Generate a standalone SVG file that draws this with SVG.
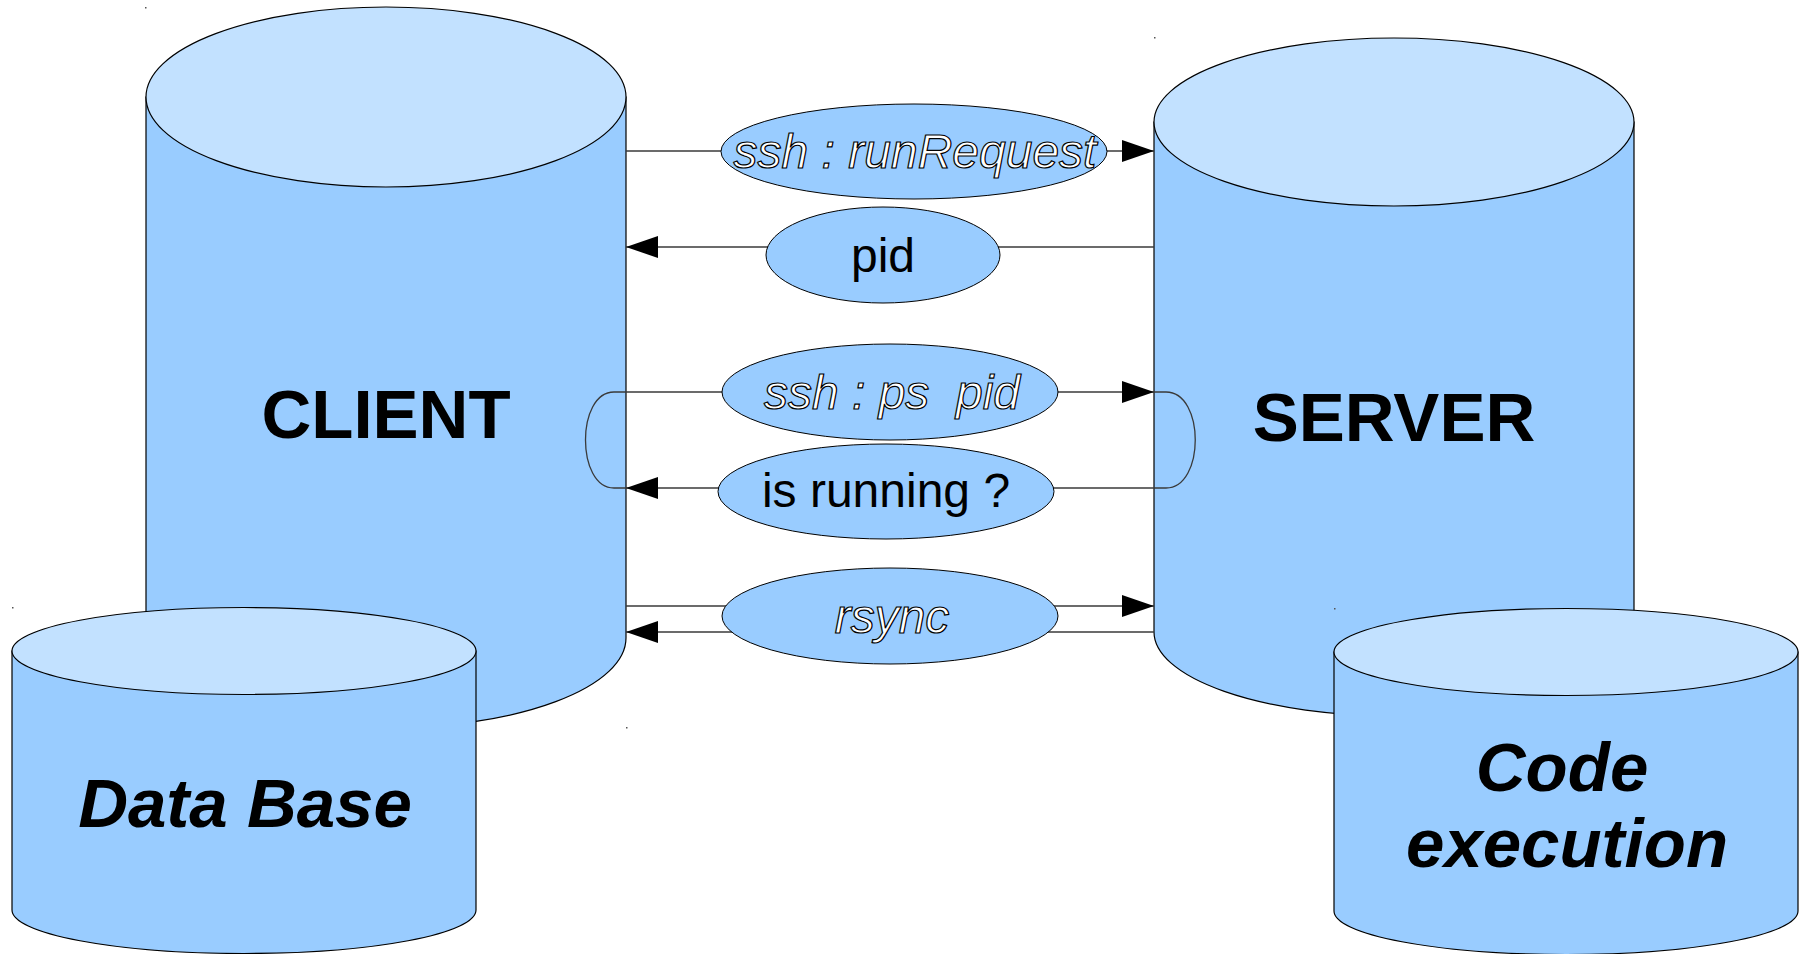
<svg xmlns="http://www.w3.org/2000/svg" width="1799" height="954" viewBox="0 0 1799 954">
<style>
.body{fill:#99ccff;stroke:#000;stroke-width:1.2}
.top{fill:#c2e1ff;stroke:#000;stroke-width:1.2}
.lbl{fill:#99ccff;stroke:#000;stroke-width:1}
.con{fill:none;stroke:#3a3a3a;stroke-width:1.3}
.big{font-family:"Liberation Sans",Arial,sans-serif;font-size:69px;font-weight:bold;fill:#000;text-anchor:middle}
.bi{font-style:italic}
.out{font-family:"Liberation Sans",Arial,sans-serif;font-size:48px;font-style:italic;fill:#fff;stroke:#000;stroke-width:1.2;text-anchor:middle}
.reg{font-family:"Liberation Sans",Arial,sans-serif;font-size:48px;fill:#000;text-anchor:middle}
.dot{fill:#555}
</style>
<defs>
<marker id="arr" markerUnits="userSpaceOnUse" markerWidth="32" markerHeight="22" refX="32" refY="11" orient="auto">
<path d="M0,0 L32,11 L0,22 Z" fill="#000"/>
</marker>
</defs>
<rect width="1799" height="954" fill="#fff"/>
<g id="client">
<path class="body" d="M146 97 L146 638 A240 90 0 0 0 626 638 L626 97 Z"/>
<ellipse class="top" cx="386" cy="97" rx="240" ry="90"/>
<text class="big" x="386" y="438">CLIENT</text>
</g>
<g id="server">
<path class="body" d="M1154 122 L1154 632 A240 84 0 0 0 1634 632 L1634 122 Z"/>
<ellipse class="top" cx="1394" cy="122" rx="240" ry="84"/>
<text class="big" x="1394" y="441">SERVER</text>
</g>
<g id="database">
<path class="body" d="M12 651 L12 910 A232 43.5 0 0 0 476 910 L476 651 Z"/>
<ellipse class="top" cx="244" cy="651" rx="232" ry="43.5"/>
<text class="big bi" x="245" y="827">Data Base</text>
</g>
<g id="codeexec">
<path class="body" d="M1334 652 L1334 911 A232 43.5 0 0 0 1798 911 L1798 652 Z"/>
<ellipse class="top" cx="1566" cy="652" rx="232" ry="43.5"/>
<text class="big bi" x="1562" y="791">Code</text>
<text class="big bi" x="1567" y="867">execution</text>
</g>
<g id="connectors">
<line class="con" x1="626" y1="151" x2="1154" y2="151" marker-end="url(#arr)"/>
<line class="con" x1="1154" y1="247" x2="626" y2="247" marker-end="url(#arr)"/>
<line class="con" x1="626" y1="392" x2="1154" y2="392" marker-end="url(#arr)"/>
<line class="con" x1="1154" y1="488" x2="626" y2="488" marker-end="url(#arr)"/>
<path class="con" d="M626 392 L614 392 C576 392 576 488 614 488 L626 488"/>
<path class="con" d="M1154 392 L1166 392 C1205 392 1205 488 1166 488 L1154 488"/>
<line class="con" x1="626" y1="606" x2="1154" y2="606" marker-end="url(#arr)"/>
<line class="con" x1="1154" y1="632" x2="626" y2="632" marker-end="url(#arr)"/>
</g>
<g id="lbl-runrequest">
<ellipse class="lbl" cx="914" cy="151.5" rx="193" ry="47.5"/>
<text class="out" x="915" y="168">ssh : runRequest</text>
</g>
<g id="lbl-pid">
<ellipse class="lbl" cx="883" cy="255" rx="117" ry="48"/>
<text class="reg" x="883" y="272">pid</text>
</g>
<g id="lbl-ps">
<ellipse class="lbl" cx="890" cy="392" rx="168" ry="48"/>
<text class="out" x="892" y="409" xml:space="preserve">ssh : ps  pid</text>
</g>
<g id="lbl-running">
<ellipse class="lbl" cx="886" cy="491.5" rx="168" ry="47.5"/>
<text class="reg" x="886" y="507">is running ?</text>
</g>
<g id="lbl-rsync">
<ellipse class="lbl" cx="890" cy="616" rx="168" ry="48"/>
<text class="out" x="892" y="633">rsync</text>
</g>
<rect class="dot" x="145" y="7" width="1.5" height="1.5"/>
<rect class="dot" x="1154" y="37" width="1.5" height="1.5"/>
<rect class="dot" x="12" y="607" width="1.5" height="1.5"/>
<rect class="dot" x="1334" y="608" width="1.5" height="1.5"/>
<rect class="dot" x="626" y="727" width="1.5" height="1.5"/>
</svg>
